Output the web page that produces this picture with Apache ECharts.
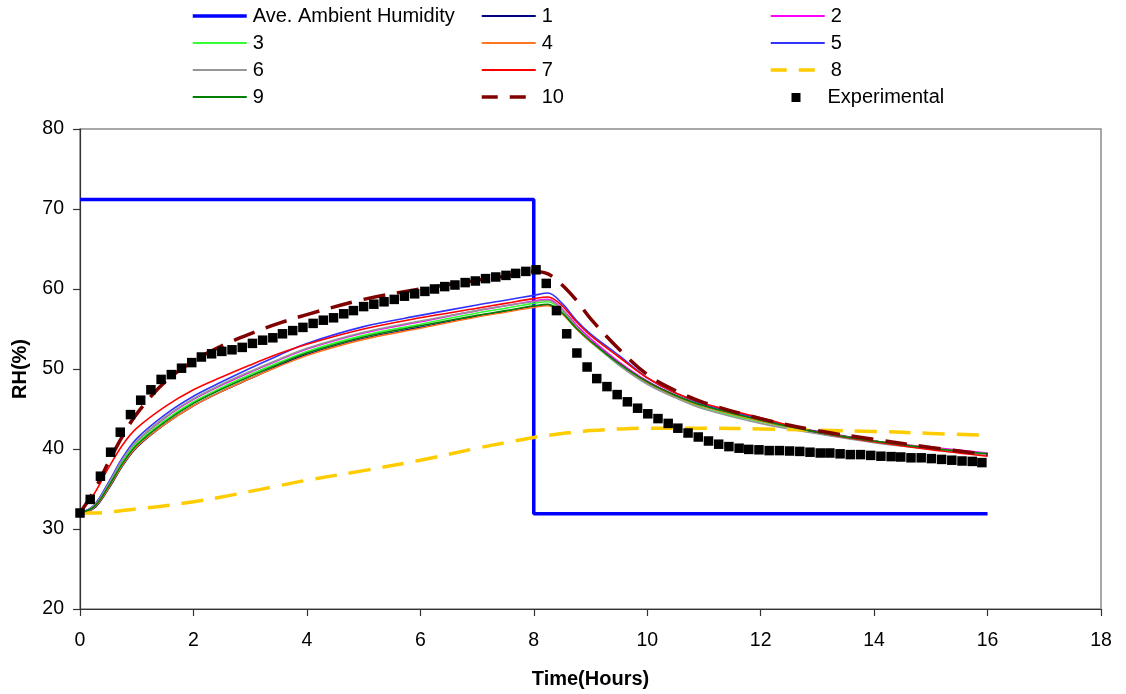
<!DOCTYPE html>
<html>
<head>
<meta charset="utf-8">
<script src="https://cdn.jsdelivr.net/npm/echarts@6/dist/echarts.min.js"></script>
<style>
html,body{margin:0;padding:0;background:#fff;}
#chart{width:1126px;height:694px;}
</style>
</head>
<body>
<div id="chart"></div>
<script>
// ---------- data ----------
const ambientTime = [0, 8, 8, 16];
const ambientRH = [71.2, 71.2, 31.9, 31.9];

const modelTime = [0, 0.25, 0.5, 0.75, 1, 1.5, 2, 2.5, 3, 3.5, 4, 5, 6, 7, 7.5, 8, 8.25, 8.5, 8.75, 9, 9.5, 10, 10.5, 11, 12, 13, 14, 15, 16];
const model1  = [32.0, 32.6, 35.0, 37.9, 40.2, 43.1, 45.4, 47.2, 48.8, 50.4, 51.8, 53.8, 55.2, 56.6, 57.2, 57.8, 58.0, 57.0, 55.1, 53.5, 50.7, 48.4, 46.7, 45.4, 43.6, 42.2, 41.0, 40.1, 39.3];
const model2  = [32.0, 32.9, 35.6, 38.6, 40.9, 43.9, 46.2, 48.0, 49.6, 51.1, 52.5, 54.5, 55.9, 57.3, 57.9, 58.5, 58.7, 57.5, 55.5, 53.8, 50.9, 48.5, 46.7, 45.3, 43.5, 42.1, 41.0, 40.2, 39.5];
const model3  = [32.0, 32.8, 35.4, 38.4, 40.7, 43.6, 45.9, 47.7, 49.3, 50.8, 52.2, 54.2, 55.6, 57.0, 57.6, 58.2, 58.4, 57.2, 55.1, 53.4, 50.5, 48.2, 46.5, 45.1, 43.4, 42.0, 40.9, 40.1, 39.4];
const model4  = [32.0, 32.7, 35.1, 38.0, 40.3, 43.1, 45.4, 47.2, 48.8, 50.3, 51.7, 53.7, 55.1, 56.5, 57.1, 57.7, 57.9, 56.9, 55.0, 53.4, 50.6, 48.3, 46.6, 45.3, 43.5, 42.1, 41.0, 40.1, 39.3];
const model5  = [32.0, 33.0, 35.8, 38.9, 41.3, 44.3, 46.6, 48.4, 50.1, 51.7, 53.2, 55.3, 56.7, 58.0, 58.6, 59.2, 59.5, 58.2, 56.1, 54.4, 51.7, 48.9, 47.0, 45.6, 43.8, 42.0, 40.9, 40.0, 39.3];
const model6  = [32.0, 32.9, 35.6, 38.7, 41.0, 44.0, 46.3, 48.1, 49.7, 51.2, 52.6, 54.6, 56.0, 57.3, 57.9, 58.4, 58.6, 57.4, 55.3, 53.5, 50.5, 48.1, 46.4, 45.0, 43.2, 41.9, 40.8, 40.0, 39.3];
const model7  = [32.0, 34.4, 37.6, 40.5, 42.6, 45.3, 47.4, 49.0, 50.5, 51.9, 53.1, 55.0, 56.4, 57.6, 58.2, 58.8, 59.0, 57.9, 55.9, 54.2, 51.5, 48.9, 47.0, 45.7, 43.9, 42.1, 40.9, 39.9, 39.1];
const model8  = [32.0, 32.0, 32.1, 32.3, 32.5, 32.9, 33.4, 34.0, 34.7, 35.4, 36.1, 37.3, 38.6, 40.1, 40.8, 41.45, 41.7, 41.95, 42.1, 42.3, 42.5, 42.6, 42.6, 42.6, 42.5, 42.35, 42.2, 41.95, 41.7];
const model9  = [32.0, 32.8, 35.3, 38.2, 40.5, 43.4, 45.7, 47.5, 49.1, 50.6, 52.0, 54.0, 55.4, 56.7, 57.3, 57.9, 58.1, 57.0, 55.1, 53.5, 50.7, 48.4, 46.7, 45.4, 43.6, 42.1, 41.0, 40.1, 39.4];
const model10 = [32.0, 34.8, 38.3, 41.6, 44.4, 48.4, 51.0, 52.9, 54.4, 55.7, 56.8, 58.7, 60.0, 61.1, 61.6, 62.2, 61.9, 60.5, 58.6, 56.3, 52.5, 49.3, 47.3, 45.8, 43.8, 42.3, 41.2, 40.2, 39.3];

const expTime = [0, 0.18, 0.36, 0.54, 0.71, 0.89, 1.07, 1.25, 1.43, 1.61, 1.79, 1.97, 2.14, 2.32, 2.50, 2.68, 2.86, 3.04, 3.22, 3.40,
  3.57, 3.75, 3.93, 4.11, 4.29, 4.47, 4.65, 4.82, 5.00, 5.18, 5.36, 5.54, 5.72, 5.90, 6.08, 6.25, 6.43, 6.61, 6.79, 6.97,
  7.15, 7.33, 7.51, 7.68, 7.86, 8.04, 8.22, 8.40, 8.58, 8.76, 8.94, 9.11, 9.29, 9.47, 9.65, 9.83, 10.01, 10.19, 10.37, 10.54,
  10.72, 10.90, 11.08, 11.26, 11.44, 11.62, 11.79, 11.97, 12.15, 12.33, 12.51, 12.69, 12.87, 13.05, 13.22, 13.40, 13.58, 13.76, 13.94, 14.12,
  14.30, 14.47, 14.65, 14.83, 15.01, 15.19, 15.37, 15.55, 15.73, 15.90];
const expRH = [32.0, 33.7, 36.6, 39.6, 42.1, 44.3, 46.1, 47.4, 48.7, 49.3, 50.1, 50.8, 51.5, 51.9, 52.2, 52.4, 52.7, 53.2, 53.6, 53.9,
  54.4, 54.8, 55.2, 55.7, 56.1, 56.4, 56.9, 57.3, 57.8, 58.1, 58.4, 58.7, 59.1, 59.4, 59.7, 60.0, 60.3, 60.5, 60.8, 61.0,
  61.3, 61.5, 61.7, 61.95, 62.2, 62.4, 60.7, 57.3, 54.4, 52.0, 50.25, 48.8, 47.8, 46.8, 45.9, 45.1, 44.4, 43.8, 43.2, 42.6,
  42.0, 41.5, 41.0, 40.6, 40.3, 40.1, 39.95, 39.9, 39.8, 39.8, 39.75, 39.7, 39.6, 39.5, 39.5, 39.4, 39.3, 39.3, 39.2, 39.1,
  39.05, 39.0, 38.9, 38.9, 38.8, 38.7, 38.6, 38.5, 38.45, 38.3];

// ---------- chart ----------
const FONT = "'Liberation Sans', Arial, sans-serif";
const zip = (xs, ys) => xs.map((x, i) => [x, ys[i]]);

function modelSeries(name, values, color, width, dash) {
  return {
    name: name, type: 'line', data: zip(modelTime, values),
    symbol: 'none', smooth: 0.35,
    lineStyle: { color: color, width: width, type: dash || 'solid', cap: 'butt' },
    itemStyle: { color: color },
    emphasis: { disabled: true }, animation: false
  };
}

const series = [
  {
    name: 'Ave. Ambient Humidity', type: 'line', data: zip(ambientTime, ambientRH),
    symbol: 'none', lineStyle: { color: '#0000FF', width: 3.5 }, itemStyle: { color: '#0000FF' },
    emphasis: { disabled: true }, animation: false
  },
  modelSeries('1', model1, '#000080', 1.6),
  modelSeries('2', model2, '#FF00FF', 1.6),
  modelSeries('3', model3, '#33FF33', 1.6),
  modelSeries('4', model4, '#FF7722', 1.6),
  modelSeries('5', model5, '#3333FF', 1.6),
  modelSeries('6', model6, '#969696', 1.6),
  modelSeries('7', model7, '#FF0000', 1.6),
  modelSeries('8', model8, '#FFCC00', 3.5, [22, 12]),
  modelSeries('9', model9, '#008000', 1.6),
  modelSeries('10', model10, '#800000', 3.5, [22, 12]),
  {
    name: 'Experimental', type: 'scatter', data: zip(expTime, expRH),
    symbol: 'rect', symbolSize: 9.5, itemStyle: { color: '#000000', opacity: 1 }, z: 5,
    emphasis: { disabled: true }, animation: false
  }
];

const legendBase = {
  orient: 'vertical', padding: 0, itemWidth: 54, itemHeight: 14, itemGap: 7,
  selectedMode: false,
  itemStyle: { opacity: 0 },
  textStyle: { fontSize: 20, lineHeight: 20, color: '#000', fontFamily: FONT, padding: [0, 0, 0, 1] }
};
const thin = { width: 1.8, type: 'solid' };
const dashed = { width: 3.5, type: [16, 12] };
function li(name, ls) { return { name: name, lineStyle: ls }; }

const option = {
  backgroundColor: '#ffffff',
  animation: false,
  textStyle: { fontFamily: FONT },
  grid: { left: 80, right: 25, top: 129, bottom: 83, show: true, borderColor: '#8c8c8c', borderWidth: 1.5, backgroundColor: 'transparent' },
  legend: [
    Object.assign({}, legendBase, { left: 191, top: 6,
      data: [li('Ave. Ambient Humidity', { width: 3.5, type: 'solid' }), li('3', thin), li('6', thin), li('9', thin)] }),
    Object.assign({}, legendBase, { left: 480, top: 6,
      data: [li('1', thin), li('4', thin), li('7', thin), li('10', dashed)] }),
    Object.assign({}, legendBase, { left: 769, top: 6,
      data: [li('2', thin), li('5', thin), li('8', dashed)] }),
    Object.assign({}, legendBase, { left: 791.5, top: 87.5, itemWidth: 9, itemHeight: 9, itemStyle: { opacity: 1 },
      textStyle: { fontSize: 20, lineHeight: 20, color: '#000', fontFamily: FONT, padding: [0, 0, 0, 22] },
      data: [{ name: 'Experimental', icon: 'rect' }] })
  ],
  xAxis: {
    type: 'value', min: 0, max: 18, interval: 2,
    name: 'Time(Hours)', nameLocation: 'middle', nameGap: 60,
    nameTextStyle: { fontSize: 20, fontWeight: 'bold', color: '#000', fontFamily: FONT },
    axisLine: { lineStyle: { color: '#333', width: 1.2 } },
    axisTick: { inside: false, length: 7, lineStyle: { color: '#333', width: 1.2 } },
    axisLabel: { fontSize: 19.5, color: '#000', margin: 22, fontFamily: FONT },
    splitLine: { show: false }
  },
  yAxis: {
    type: 'value', min: 20, max: 80, interval: 10,
    name: 'RH(%)', nameLocation: 'middle', nameGap: 50, nameRotate: 90,
    nameTextStyle: { fontSize: 20, fontWeight: 'bold', color: '#000', fontFamily: FONT },
    axisLine: { lineStyle: { color: '#333', width: 1.2 } },
    axisTick: { inside: false, length: 7, lineStyle: { color: '#333', width: 1.2 } },
    axisLabel: { fontSize: 19.5, color: '#000', margin: 16, fontFamily: FONT },
    splitLine: { show: false }
  },
  series: series
};

const chart = echarts.init(document.getElementById('chart'), null, { renderer: 'canvas' });
chart.setOption(option);
</script>
</body>
</html>
